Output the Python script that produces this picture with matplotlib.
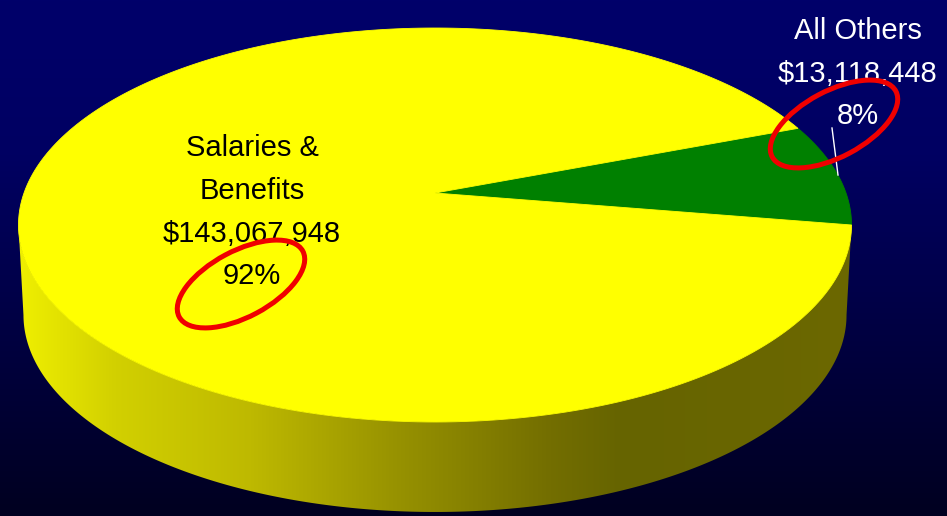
# pastel 3D: Salaries & Benefits vs All Others
import numpy as np
import matplotlib.pyplot as plt
from matplotlib.patches import Polygon, Ellipse

labels = ['Salaries &\nBenefits', 'All Others']
amounts = [143067948, 13118448]
slice_colors = ['#ffff00', '#008000']
text_colors = ['black', 'white']

total = sum(amounts)
pcts = [100 * a / total for a in amounts]

W, H = 947, 516
# geometria del pastel (pixeles)
CX, CY = 435, 193
RX, RZ = 411, -160.45
K = 0.1624
DEPTH = 90
EDGE = np.degrees(np.arcsin(K))


def proj(theta, bottom=False):
    t = np.radians(theta)
    X, Z = np.cos(t), np.sin(t)
    w = 1 + K * Z
    s = 0.988 if bottom else 1.0
    x = CX + RX * s * X / w
    y = (CY + RZ * Z) / w + (DEPTH if bottom else 0)
    return x, y


fig = plt.figure(figsize=(W / 100, H / 100), dpi=100)
ax = fig.add_axes([0, 0, 1, 1])
ax.axis('off')

# fondo degradado azul
rows = np.linspace(0, 1, 256)
blue = np.interp(rows, [0, 0.3, 1], [106, 98, 32]) / 255
bg = np.zeros((256, 1, 3))
bg[:, 0, 2] = blue
ax.imshow(bg, extent=[0, W, H, 0], aspect='auto', zorder=0)

# lado del cilindro
th = np.linspace(180 + EDGE, 360 - EDGE, 300)
tx, ty = proj(th)
bx, by = proj(th[::-1], bottom=True)
side = Polygon(np.column_stack([np.r_[tx, bx], np.r_[ty, by]]), closed=True,
               facecolor='none', edgecolor='none', zorder=1)
ax.add_patch(side)
xs = np.arange(W)
stops_x = [17, 115, 250, 400, 550, 620, 750, 852]
stops_r = [240, 210, 190, 150, 115, 102, 105, 108]
stops_g = [240, 208, 185, 145, 110, 100, 102, 104]
grad = np.zeros((1, W, 3))
grad[0, :, 0] = np.interp(xs, stops_x, stops_r) / 255
grad[0, :, 1] = np.interp(xs, stops_x, stops_g) / 255
im = ax.imshow(grad, extent=[0, W, H, 0], aspect='auto', zorder=1)
im.set_clip_path(side)

# cara superior
start = -EDGE
for i in (1, 0):
    span = 360 * amounts[i] / total
    arc = np.linspace(start, start + span, 300)
    ax_, ay_ = proj(arc)
    pts = np.column_stack([np.r_[CX, ax_], np.r_[CY, ay_]])
    ax.add_patch(Polygon(pts, closed=True, facecolor=slice_colors[i],
                         edgecolor=slice_colors[i], lw=0.6, zorder=2))
    start += span

font = ['Liberation Sans', 'DejaVu Sans']

# etiquetas
name_lines = labels[0].split('\n')
for txt, yb in zip(name_lines + [f'${amounts[0]:,}', f'{round(pcts[0])}%'],
                   [156, 199, 242, 284]):
    ax.text(252, yb, txt, color=text_colors[0], fontsize=21, family=font,
            ha='center', va='baseline', zorder=5)

for txt, yb in zip([labels[1], f'${amounts[1]:,}', f'{round(pcts[1])}%'],
                   [39, 82, 124]):
    ax.text(858, yb, txt, color=text_colors[1], fontsize=21, family=font,
            ha='center', va='baseline', zorder=5)

ax.plot([832, 838], [128, 175], color='white', lw=1, zorder=4)

# circulos rojos
for c in [(834, 124), (241, 284)]:
    ax.add_patch(Ellipse(c, 140, 66, angle=-28, facecolor='none',
                         edgecolor='#f00000', lw=3.6, zorder=6))

ax.set_xlim(0, W)
ax.set_ylim(H, 0)
fig.savefig('out.png', dpi=100, facecolor='black')
